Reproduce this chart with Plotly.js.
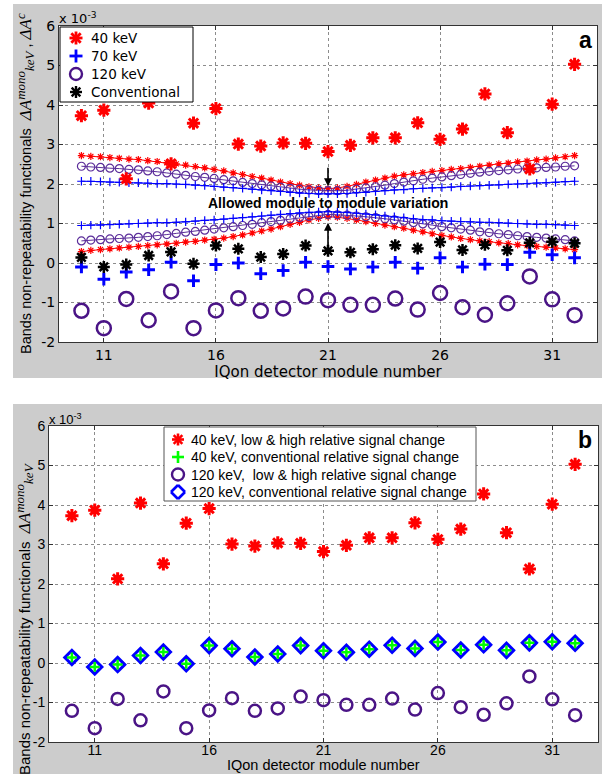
<!DOCTYPE html>
<html><head><meta charset="utf-8">
<script src="https://cdn.plot.ly/plotly-3.0.1.min.js"></script>
<style>html,body{margin:0;padding:0;background:#fff}#chart{width:602px;height:774px}</style>
</head><body><div id="chart"></div>
<script>
// Detector modules (x categories)
const modules = [10,11,12,13,14,15,16,17,18,19,20,21,22,23,24,25,26,27,28,29,30,31,32];
const xTicks = [11,16,21,26,31];
const yTicks = [-2,-1,0,1,2,3,4,5,6];

// Non-repeatability functionals (x 10^-3)
const keV40 = [3.73,3.87,2.13,4.05,2.51,3.54,3.91,3.01,2.96,3.04,3.03,2.82,2.98,3.17,3.17,3.55,3.13,3.39,4.28,3.30,2.38,4.02,5.03];
const keV70 = [-0.10,-0.41,-0.23,-0.17,0.02,-0.45,-0.04,0.00,-0.27,-0.19,0.02,-0.09,-0.15,-0.10,0.02,-0.13,0.13,-0.10,-0.03,-0.04,0.27,0.21,0.13];
const keV120 = [-1.21,-1.65,-0.91,-1.45,-0.72,-1.65,-1.20,-0.89,-1.21,-1.15,-0.85,-0.94,-1.06,-1.06,-0.90,-1.18,-0.76,-1.12,-1.31,-1.02,-0.34,-0.92,-1.32];
const conventional = [0.14,-0.10,-0.04,0.19,0.28,-0.02,0.44,0.36,0.15,0.23,0.44,0.31,0.27,0.35,0.45,0.37,0.53,0.33,0.46,0.32,0.51,0.54,0.50];

// Allowed module-to-module variation bands (panel a)
const bandX = [10.00,10.42,10.85,11.27,11.69,12.12,12.54,12.96,13.38,13.81,14.23,14.65,15.08,15.50,15.92,16.35,16.77,17.19,17.62,18.04,18.46,18.88,19.31,19.73,20.15,20.58,21.00,21.42,21.85,22.27,22.69,23.12,23.54,23.96,24.38,24.81,25.23,25.65,26.08,26.50,26.92,27.35,27.77,28.19,28.62,29.04,29.46,29.88,30.31,30.73,31.15,31.58,32.00];
const band40Upper = [2.72,2.70,2.69,2.67,2.65,2.63,2.62,2.59,2.57,2.54,2.51,2.48,2.44,2.41,2.37,2.33,2.28,2.24,2.19,2.15,2.10,2.05,2.01,1.97,1.93,1.90,1.88,1.90,1.94,1.99,2.05,2.10,2.15,2.20,2.23,2.26,2.29,2.32,2.34,2.37,2.39,2.42,2.45,2.48,2.51,2.53,2.56,2.58,2.61,2.63,2.66,2.69,2.72];
const band40Lower = [0.29,0.32,0.34,0.36,0.38,0.40,0.42,0.44,0.46,0.48,0.50,0.53,0.55,0.58,0.60,0.63,0.67,0.71,0.76,0.81,0.86,0.92,0.98,1.03,1.09,1.13,1.17,1.16,1.13,1.09,1.05,1.00,0.96,0.92,0.88,0.83,0.79,0.74,0.70,0.66,0.62,0.59,0.56,0.54,0.51,0.49,0.46,0.44,0.42,0.40,0.38,0.36,0.34];
const band120Upper = [2.45,2.43,2.42,2.40,2.39,2.37,2.36,2.33,2.31,2.28,2.25,2.22,2.19,2.17,2.14,2.11,2.08,2.04,2.01,1.98,1.95,1.92,1.89,1.87,1.85,1.84,1.83,1.83,1.84,1.87,1.90,1.93,1.97,2.01,2.05,2.08,2.12,2.15,2.18,2.21,2.24,2.27,2.30,2.32,2.34,2.36,2.38,2.40,2.41,2.42,2.43,2.45,2.46];
const band120Lower = [0.56,0.58,0.59,0.61,0.62,0.63,0.65,0.67,0.69,0.72,0.75,0.78,0.80,0.83,0.86,0.89,0.92,0.95,0.98,1.02,1.05,1.08,1.12,1.15,1.18,1.21,1.23,1.22,1.21,1.19,1.17,1.15,1.12,1.09,1.06,1.02,0.99,0.96,0.92,0.89,0.86,0.83,0.79,0.77,0.74,0.72,0.69,0.67,0.65,0.63,0.61,0.59,0.56];
const band70Upper = [2.07,2.07,2.06,2.05,2.04,2.03,2.03,2.02,2.01,2.01,2.00,1.99,1.97,1.96,1.94,1.92,1.91,1.89,1.87,1.85,1.83,1.81,1.79,1.77,1.76,1.75,1.75,1.75,1.76,1.78,1.79,1.81,1.83,1.85,1.86,1.88,1.89,1.90,1.91,1.92,1.94,1.95,1.96,1.97,1.98,1.99,2.00,2.01,2.02,2.03,2.04,2.06,2.07];
const band70Lower = [0.95,0.96,0.96,0.97,0.98,0.99,1.00,1.01,1.02,1.02,1.03,1.04,1.06,1.08,1.09,1.11,1.13,1.15,1.17,1.19,1.21,1.23,1.25,1.27,1.28,1.29,1.30,1.29,1.28,1.26,1.24,1.22,1.19,1.17,1.15,1.12,1.10,1.09,1.07,1.06,1.05,1.04,1.03,1.03,1.02,1.01,1.00,0.99,0.98,0.98,0.97,0.96,0.95];

// Legend labels
const legendA = ['40 keV', '70 keV', '120 keV', 'Conventional'];
const legendB = ['40 keV, low &amp; high relative signal change', '40 keV, conventional relative signal change',
                 '120 keV,\u00a0 low &amp; high relative signal change', '120 keV, conventional relative signal change'];

const RED = '#ff0000', BLUE = '#0000ff', PURPLE = '#4a1486', BANDPURPLE = '#5b2d9a', GREEN = '#00ff00', BLACK = '#000000';
const W = 602, H = 774;
const px = v => v / W, py = v => 1 - v / H;

function band(y, sym, col, size) {
  return {x: bandX, y: y, xaxis: 'x', yaxis: 'y', mode: 'lines+markers', showlegend: false, hoverinfo: 'skip',
    line: {color: col, width: 1},
    marker: {symbol: sym, size: size, color: col, line: {color: col, width: 1.2}}};
}
function pts(xa, ya, y, name, sym, size, col, lw) {
  return {x: modules, y: y, xaxis: xa, yaxis: ya, mode: 'markers', name: name, showlegend: false,
    marker: {symbol: sym, size: size, color: col, line: {color: col, width: lw}}};
}

const traces = [
  band(band40Upper, 'asterisk-open', RED, 6),
  band(band40Lower, 'asterisk-open', RED, 6),
  band(band120Upper, 'circle-open', BANDPURPLE, 8),
  band(band120Lower, 'circle-open', BANDPURPLE, 8),
  band(band70Upper, 'cross-thin-open', BLUE, 6),
  band(band70Lower, 'cross-thin-open', BLUE, 6),
  pts('x', 'y', keV40, legendA[0], 'asterisk-open', 11, RED, 3),
  pts('x', 'y', keV70, legendA[1], 'cross-thin-open', 9, BLUE, 3),
  pts('x', 'y', keV120, legendA[2], 'circle-open', 14, PURPLE, 2.5),
  pts('x', 'y', conventional, legendA[3], 'asterisk-open', 10, BLACK, 2.5),
  // panel b
  pts('x2', 'y2', keV40, legendB[0], 'asterisk-open', 11, RED, 3),
  pts('x2', 'y2', keV120, legendB[2], 'circle-open', 12, PURPLE, 2.5),
  pts('x2', 'y2', conventional, legendB[3], 'diamond-open', 11, BLUE, 3),
  pts('x2', 'y2', conventional, legendB[1], 'cross-thin-open', 7, GREEN, 2.5)
];

// ---- legend keys (drawn as shapes in pixel space of the page) ----
function seg(x0, y0, x1, y1, col, w) {
  return {type: 'line', xref: 'paper', yref: 'paper', x0: px(x0), y0: py(y0), x1: px(x1), y1: py(y1),
    line: {color: col, width: w}, layer: 'above'};
}
function keyAst(cx, cy, r, col, w) {
  const d = r * 0.72;
  return [seg(cx, cy - r, cx, cy + r, col, w), seg(cx - r, cy, cx + r, cy, col, w),
          seg(cx - d, cy - d, cx + d, cy + d, col, w), seg(cx - d, cy + d, cx + d, cy - d, col, w)];
}
function keyPlus(cx, cy, r, col, w) { return [seg(cx, cy - r, cx, cy + r, col, w), seg(cx - r, cy, cx + r, cy, col, w)]; }
function keyCircle(cx, cy, r, col, w) {
  return [{type: 'circle', xref: 'paper', yref: 'paper', x0: px(cx - r), x1: px(cx + r), y0: py(cy + r), y1: py(cy - r),
    line: {color: col, width: w}, layer: 'above'}];
}
function keyDiamond(cx, cy, r, col, w) {
  return [seg(cx, cy - r, cx + r, cy, col, w), seg(cx + r, cy, cx, cy + r, col, w),
          seg(cx, cy + r, cx - r, cy, col, w), seg(cx - r, cy, cx, cy - r, col, w)];
}
function box(x0, y0, x1, y1, col) {
  return {type: 'rect', xref: 'paper', yref: 'paper', x0: px(x0), x1: px(x1), y0: py(y1), y1: py(y0),
    fillcolor: '#ffffff', line: {color: col, width: 1}, layer: 'above'};
}
const rowsA = [38, 56, 74, 92];
const rowsB = [439.5, 457, 474.5, 492];
const legendShapes = [].concat(
  [box(60, 27, 193, 102, '#000')],
  keyAst(76, rowsA[0], 6.5, RED, 2.8),
  keyPlus(76, rowsA[1], 6.5, BLUE, 2.8),
  keyCircle(76, rowsA[2], 6, PURPLE, 2.4),
  keyAst(76, rowsA[3], 6, BLACK, 2.4),
  [box(164, 427, 476, 501, '#555')],
  keyAst(178, rowsB[0], 6, RED, 2.6),
  keyPlus(178, rowsB[1], 6, GREEN, 2.6),
  keyCircle(178, rowsB[2], 6, PURPLE, 2.4),
  keyDiamond(178, rowsB[3], 7, BLUE, 2.6)
);
const legendTexts = [].concat(
  legendA.map((t, i) => ({xref: 'paper', yref: 'paper', x: px(89), y: py(rowsA[i]), xanchor: 'left', yanchor: 'middle',
    showarrow: false, text: t, font: {family: 'DejaVu Sans', size: 13.5, color: '#000'}})),
  legendB.map((t, i) => ({xref: 'paper', yref: 'paper', x: px(189), y: py(rowsB[i]), xanchor: 'left', yanchor: 'middle',
    showarrow: false, text: t, font: {family: 'Liberation Sans, Arial', size: 14, color: '#000'}}))
);

const fontA = {family: 'DejaVu Sans', size: 14, color: '#000'};
const fontB = {family: 'Liberation Sans, Arial', size: 14, color: '#000'};
const math = s => "<span style=\"font-family:'Liberation Serif';font-size:17px\"><i>" + s + "</i></span>";
const mathS = s => "<span style=\"font-family:'Liberation Serif';font-size:13px\"><i>" + s + "</i></span>";

function xax(dom, font, titleText, titleFont) {
  return {domain: dom, range: [9, 33], tickvals: xTicks, ticktext: xTicks.map(String), tickfont: font,
    showgrid: true, gridcolor: '#8c8c8c', griddash: 'dot', gridwidth: 1, zeroline: false,
    showline: true, linecolor: '#333', linewidth: 1, mirror: 'ticks', ticks: 'inside', ticklen: 4, tickcolor: '#333',
    title: {text: titleText, font: titleFont, standoff: 2}};
}
function yax(dom, anchor, font) {
  return {domain: dom, anchor: anchor, range: [-2, 6], tickvals: yTicks, ticktext: yTicks.map(String), tickfont: font,
    showgrid: true, gridcolor: '#8c8c8c', griddash: 'dot', gridwidth: 1, zeroline: false,
    showline: true, linecolor: '#333', linewidth: 1, mirror: 'ticks', ticks: 'inside', ticklen: 4, tickcolor: '#333'};
}

const titleA = 'Bands non-repeatability functionals\u00a0 ' + math('ΔA') + '<sup>' + mathS('mono') + '</sup><sub>' + mathS('keV') + '</sub> , ' + math('ΔA') + '<sup>' + mathS('c') + '</sup>';
const titleB = 'Bands non-repeatability functionals\u00a0 ' + math('ΔA') + '<sup>' + mathS('mono') + '</sup><sub>' + mathS('keV') + '</sub>';
const xTitle = 'IQon detector module number';

const layout = {
  width: W, height: H, autosize: false, showlegend: false,
  margin: {l: 0, r: 0, t: 0, b: 0, pad: 0},
  paper_bgcolor: '#ffffff', plot_bgcolor: 'rgba(0,0,0,0)',
  font: {family: 'Liberation Sans, Arial', color: '#000'},
  xaxis: Object.assign(xax([px(59), px(597)], fontA, xTitle, {family: 'DejaVu Sans', size: 15, color: '#000'}), {anchor: 'y'}),
  yaxis: yax([py(342), py(26)], 'x', fontA),
  xaxis2: Object.assign(xax([px(49), px(598)], fontB, '', fontB), {anchor: 'y2', ticklabelstandoff: -5}),
  yaxis2: yax([py(742), py(426)], 'x2', fontB),
  shapes: [
    {type: 'rect', xref: 'paper', yref: 'paper', x0: px(13), x1: 1, y0: py(378), y1: py(4), fillcolor: '#cccccc', line: {width: 0}, layer: 'below'},
    {type: 'rect', xref: 'paper', yref: 'paper', x0: px(13), x1: 1, y0: 0, y1: py(404), fillcolor: '#cccccc', line: {width: 0}, layer: 'below'},
    {type: 'rect', xref: 'x domain', yref: 'y domain', x0: 0, x1: 1, y0: 0, y1: 1, fillcolor: '#ffffff', line: {width: 0}, layer: 'below'},
    {type: 'rect', xref: 'x2 domain', yref: 'y2 domain', x0: 0, x1: 1, y0: 0, y1: 1, fillcolor: '#ffffff', line: {width: 0}, layer: 'below'}
  ].concat(legendShapes),
  annotations: [
    {xref: 'paper', yref: 'paper', x: px(25), y: py(184), xanchor: 'center', yanchor: 'middle', textangle: -90, showarrow: false,
     text: titleA, font: {family: 'Liberation Sans, Arial', size: 14.5, color: '#000'}},
    {xref: 'paper', yref: 'paper', x: px(24), y: py(619), xanchor: 'center', yanchor: 'middle', textangle: -90, showarrow: false,
     text: titleB, font: {family: 'Liberation Sans, Arial', size: 15, color: '#000'}},
    {xref: 'paper', yref: 'paper', x: px(323), y: py(764.5), xanchor: 'center', yanchor: 'middle', showarrow: false,
     text: xTitle, font: {family: 'Liberation Sans, Arial', size: 14.5, color: '#000'}},
    {xref: 'paper', yref: 'paper', x: px(57), y: py(18), xanchor: 'left', yanchor: 'middle', showarrow: false,
     text: 'x 10<sup>-3</sup>', font: {family: 'DejaVu Sans', size: 13, color: '#000'}},
    {xref: 'paper', yref: 'paper', x: px(47), y: py(419), xanchor: 'left', yanchor: 'middle', showarrow: false,
     text: 'x 10<sup>-3</sup>', font: {family: 'Liberation Sans, Arial', size: 13, color: '#000'}},
    {xref: 'paper', yref: 'paper', x: px(585), y: py(40), xanchor: 'center', yanchor: 'middle', showarrow: false,
     text: '<b>a</b>', font: {family: 'Liberation Sans, Arial', size: 23, color: '#000'}},
    {xref: 'paper', yref: 'paper', x: px(585), y: py(440), xanchor: 'center', yanchor: 'middle', showarrow: false,
     text: '<b>b</b>', font: {family: 'Liberation Sans, Arial', size: 23, color: '#000'}},
    {xref: 'x', yref: 'y', x: 21, y: 1.52, showarrow: false, text: '<b>Allowed module to module variation</b>',
     font: {family: 'Liberation Sans, Arial', size: 14, color: '#000'}},
    {xref: 'x', yref: 'y', x: 21, y: 1.94, axref: 'x', ayref: 'y', ax: 21, ay: 2.45, text: '', showarrow: true,
     arrowhead: 2, arrowsize: 1, arrowwidth: 1.6, arrowcolor: '#000', standoff: 0, startstandoff: 0},
    {xref: 'x', yref: 'y', x: 21, y: 1.02, axref: 'x', ayref: 'y', ax: 21, ay: 0.34, text: '', showarrow: true,
     arrowhead: 2, arrowsize: 1, arrowwidth: 1.6, arrowcolor: '#000', standoff: 0, startstandoff: 0}
  ].concat(legendTexts)
};

Plotly.newPlot('chart', traces, layout, {displayModeBar: false, staticPlot: true});
</script></body></html>
